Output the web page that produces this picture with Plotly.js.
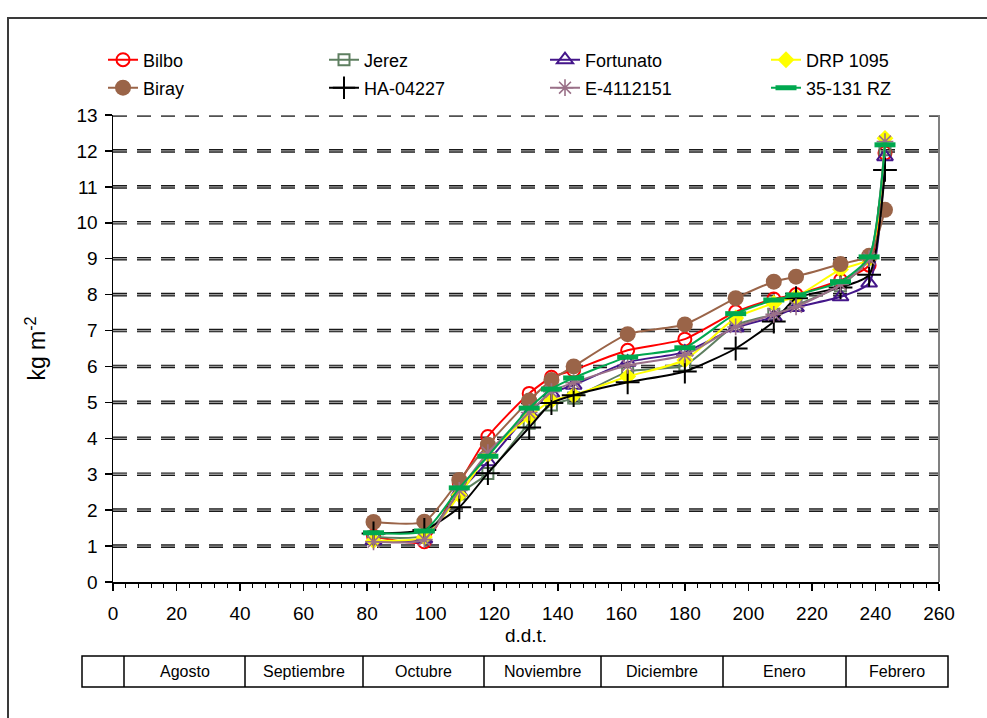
<!DOCTYPE html>
<html><head><meta charset="utf-8">
<script src="https://cdn.plot.ly/plotly-3.0.1.min.js"></script>
<style>html,body{margin:0;padding:0;background:#fff}#chart{width:987px;height:718px}</style>
</head><body><div id="chart"></div>
<script>
// ---- data ----
const days = [82, 98, 109, 118, 131, 138, 145, 162, 180, 196, 208, 215, 229, 238, 243];
const bilbo     = [1.28, 1.12, 2.75, 4.05, 5.25, 5.70, 5.90, 6.45, 6.76, 7.52, 7.88, 8.00, 8.40, 8.82, 11.94];
const jerez     = [1.25, 1.30, 2.45, 3.02, 4.42, 4.93, 5.12, 5.85, 6.04, 7.15, 7.45, 7.70, 8.25, 9.00, 12.03];
const fortunato = [1.15, 1.20, 2.50, 3.35, 4.70, 5.26, 5.48, 6.12, 6.40, 7.08, 7.38, 7.64, 7.94, 8.32, 11.84];
const drp1095   = [1.15, 1.25, 2.42, 3.55, 4.60, 5.05, 5.20, 5.72, 6.18, 7.35, 7.76, 7.94, 8.70, 9.00, 12.35];
const biray     = [1.67, 1.68, 2.84, 3.82, 5.05, 5.62, 6.00, 6.90, 7.17, 7.90, 8.36, 8.50, 8.85, 9.08, 10.36];
const ha04227   = [1.35, 1.45, 2.08, 3.03, 4.30, 4.98, 5.20, 5.56, 5.86, 6.50, 7.25, 7.90, 8.20, 8.55, 11.47];
const e4112151  = [1.12, 1.18, 2.55, 3.60, 4.72, 5.30, 5.55, 6.03, 6.32, 7.10, 7.45, 7.66, 8.28, 9.00, 12.26];
const rz35131   = [1.37, 1.42, 2.62, 3.50, 4.84, 5.37, 5.68, 6.26, 6.52, 7.47, 7.85, 7.99, 8.36, 9.05, 12.17];
const seriesNames = ['Bilbo', 'Jerez', 'Fortunato', 'DRP 1095', 'Biray', 'HA-04227', 'E-4112151', '35-131 RZ'];
const months = ['', 'Agosto', 'Septiembre', 'Octubre', 'Noviembre', 'Diciembre', 'Enero', 'Febrero'];
const xTickVals = [0, 20, 40, 60, 80, 100, 120, 140, 160, 180, 200, 220, 240, 260];
const yTickVals = [0, 1, 2, 3, 4, 5, 6, 7, 8, 9, 10, 11, 12, 13];

// ---- styles ----
const FONT = 'Liberation Sans, Arial, sans-serif';
const values = [bilbo, jerez, fortunato, drp1095, biray, ha04227, e4112151, rz35131];
const styles = [
  {c: '#ff0000', m: {symbol: 'circle-open', size: 13, color: '#ff0000', line: {width: 2, color: '#ff0000'}}},
  {c: '#5e7f60', m: {symbol: 'square-open', size: 11, color: '#5e7f60', line: {width: 2, color: '#5e7f60'}}},
  {c: '#44168a', m: {symbol: 'triangle-up-open', size: 14, color: '#44168a', line: {width: 2, color: '#44168a'}}},
  {c: '#ffff00', m: {symbol: 'diamond', size: 13, color: '#ffff00', line: {width: 0}}},
  {c: '#9a6448', m: {symbol: 'circle', size: 16, color: '#9a6448', line: {width: 0}}},
  {c: '#000000', m: {symbol: 'cross-thin', size: 17, color: '#000000', line: {width: 2, color: '#000000'}}},
  {c: '#9a7088', m: {symbol: 'asterisk-open', size: 14, color: '#9a7088', line: {width: 1.6, color: '#9a7088'}}},
  {c: '#00a84f', m: {symbol: 'line-ew-open', size: 15, color: '#00a84f', line: {width: 5, color: '#00a84f'}}}
];

const traces = values.map((v, i) => ({
  type: 'scatter', mode: 'lines+markers', name: seriesNames[i],
  x: days, y: v,
  line: {color: styles[i].c, width: 2, shape: 'spline', smoothing: 0.6},
  marker: styles[i].m,
  legend: i < 4 ? 'legend' : 'legend2',
  cliponaxis: false
}));

// pixel helpers for layout decorations
const L = 113, R = 939, T = 115, B = 582;
const px = p => (p - L) / (R - L);
const py = p => (B - p) / (B - T);

const shapes = [];
// dashed grid lines (dark outline with grey core)
yTickVals.slice(1).forEach(v => {
  shapes.push({type: 'line', xref: 'paper', yref: 'y', x0: 0, x1: 1, y0: v, y1: v, layer: 'below',
    line: {color: '#1a1a1a', width: 3.6, dash: '14px,10px'}});
  shapes.push({type: 'line', xref: 'paper', yref: 'y', x0: 0, x1: 1, y0: v, y1: v, layer: 'below',
    line: {color: '#9a9a9a', width: 1.3, dash: '14px,10px'}});
});
// right border of plot area
shapes.push({type: 'line', xref: 'paper', yref: 'paper', x0: 1, x1: 1, y0: 0, y1: 1,
  line: {color: '#808080', width: 2}});
// outer frame (left and top)
shapes.push({type: 'path', xref: 'paper', yref: 'paper',
  path: `M ${px(8)} ${py(720)} L ${px(8)} ${py(18)} L ${px(990)} ${py(18)}`,
  line: {color: '#3a3a3a', width: 2}});
// month table
const tblEdges = [82, 124, 245, 363, 484, 601, 723, 846, 948];
const tTop = 656, tBot = 687;
shapes.push({type: 'rect', xref: 'paper', yref: 'paper', x0: px(82), x1: px(948), y0: py(tBot), y1: py(tTop),
  line: {color: '#000', width: 1.5}});
tblEdges.slice(1, -1).forEach(e => shapes.push({type: 'line', xref: 'paper', yref: 'paper',
  x0: px(e), x1: px(e), y0: py(tBot), y1: py(tTop), line: {color: '#000', width: 1.5}}));

const annotations = months.map((m, i) => ({
  xref: 'paper', yref: 'paper', x: px((tblEdges[i] + tblEdges[i + 1]) / 2), y: py((tTop + tBot) / 2),
  text: m, showarrow: false, xanchor: 'center', yanchor: 'middle',
  font: {family: FONT, size: 16, color: '#000'}
})).filter(a => a.text !== '');

const legendBase = {
  orientation: 'h', xanchor: 'left', yanchor: 'middle', x: px(106),
  entrywidth: 176, entrywidthmode: 'pixels', bgcolor: 'rgba(0,0,0,0)',
  font: {family: FONT, size: 18, color: '#000'}, traceorder: 'normal', itemclick: false
};

const layout = {
  width: 987, height: 718,
  margin: {l: L, r: 987 - R, t: T, b: 718 - B, pad: 0},
  paper_bgcolor: '#fff', plot_bgcolor: '#fff',
  font: {family: FONT, size: 18, color: '#000'},
  showlegend: true,
  legend: Object.assign({}, legendBase, {y: py(60)}),
  legend2: Object.assign({}, legendBase, {y: py(88)}),
  xaxis: {
    range: [0, 260], tickvals: xTickVals, ticks: 'outside', ticklen: 7, tickwidth: 1.5, tickcolor: '#000',
    showline: true, linecolor: '#000', linewidth: 1.5, showgrid: false, zeroline: false,
    ticklabelstandoff: 7,
    minor: {dtick: 4, tick0: 0, ticks: 'outside', ticklen: 4, tickwidth: 1, tickcolor: '#000', showgrid: false},
    tickfont: {family: FONT, size: 19, color: '#000'},
    title: {text: 'd.d.t.', font: {family: FONT, size: 19, color: '#000'}, standoff: 5}
  },
  yaxis: {
    range: [0, 13], tickvals: yTickVals, ticks: 'outside', ticklen: 7, tickwidth: 1.5, tickcolor: '#000',
    showline: true, linecolor: '#000', linewidth: 1.5, showgrid: false, zeroline: false,
    ticklabelstandoff: 3,
    tickfont: {family: FONT, size: 19, color: '#000'},
    title: {text: 'kg m<sup>-2</sup>', font: {family: FONT, size: 23, color: '#000'}, standoff: 24}
  },
  shapes: shapes,
  annotations: annotations
};

Plotly.newPlot('chart', traces, layout, {displayModeBar: false, staticPlot: true});
</script>
</body></html>
